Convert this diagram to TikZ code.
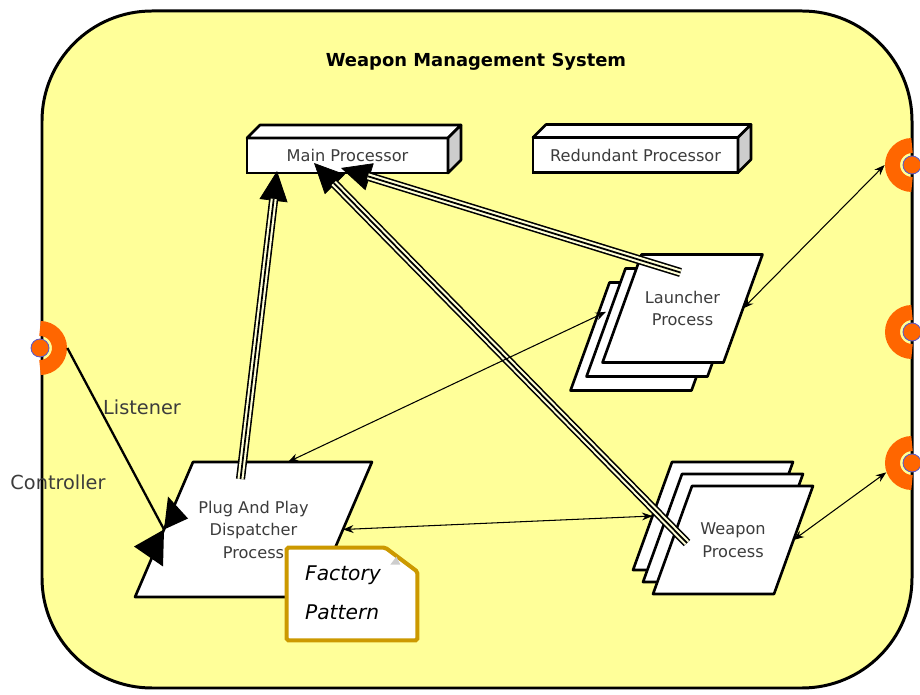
\documentclass[tikz,border=0pt]{standalone}
\usepackage{fontspec}
\setmainfont{DejaVu Sans}
\usepackage{tikz}
\usetikzlibrary{arrows,arrows.meta,backgrounds}

\definecolor{wmsyellow}{RGB}{255,255,153}
\definecolor{portorange}{RGB}{255,102,0}
\definecolor{portblue}{RGB}{90,90,200}
\definecolor{notegold}{RGB}{204,153,0}
\definecolor{sidegray}{RGB}{205,205,205}
\definecolor{labelgray}{RGB}{60,60,60}
\definecolor{railcream}{RGB}{255,255,215}

\newcommand{\nodefont}{\fontsize{9.2}{12.8}\selectfont}

\begin{document}
\begin{tikzpicture}[x=0.02cm, y=-0.02cm, inner sep=0pt]
    \tikzstyle{wmsframe}=[draw=black, line width=1.7pt, fill=wmsyellow, rounded corners=2.2cm]
    \tikzstyle{proc}=[rectangle, draw=black, line width=1.5pt, fill=white, outer sep=0pt, text=labelgray, font=\nodefont, minimum height=0.7cm]
    \tikzstyle{face}=[draw=black, line width=1.5pt, line join=round]
    \tikzstyle{card}=[rectangle, outer sep=0pt, text=labelgray, font=\nodefont, align=center, minimum width=2.42cm, minimum height=2.16cm]
    \tikzstyle{cardedge}=[draw=black, line width=1.5pt, fill=white, line join=round]
    \tikzstyle{portnode}=[circle, minimum size=1.08cm]
    \tikzstyle{ring}=[draw=portorange, line width=0.3cm]
    \tikzstyle{portdot}=[fill=portorange, draw=portblue, line width=0.5pt]
    \tikzstyle{notebrd}=[draw=notegold, line width=2.3pt, fill=white, rounded corners=1pt]
    \tikzstyle{rail}=[draw=black, line width=5.2pt, -{Triangle[length=17pt,width=16pt,line width=0.4pt]}, postaction={draw=railcream, line width=3.4pt, -, shorten >=16pt}, postaction={draw=black, line width=1pt, -, shorten >=16pt}]
    \tikzstyle{link}=[<->, >={Stealth[length=6pt,width=4.5pt]}, draw=black, line width=0.6pt]
    \tikzstyle{lbl}=[text=labelgray, font=\fontsize{11}{13}\selectfont]

    \useasboundingbox (0,0) rectangle (920,695);
    \begin{pgfonlayer}{background}
        \draw[wmsframe] (42,11) rectangle (912,688);
    \end{pgfonlayer}
    \node[font=\fontsize{10.2}{12}\selectfont\bfseries] (title) at (476,62) {Weapon Management System};

    % ports on the system border
    \node[portnode] (lp)  at (40,348) {};
    \node[portnode] (rp1) at (912,165) {};
    \node[portnode] (rp2) at (912,332) {};
    \node[portnode] (rp3) at (912,463) {};
    \foreach \p/\a in {lp/-90, rp1/90, rp2/90, rp3/90} {
        \draw[ring] (\p.center) ++(\a:0.39cm) arc (\a:\a+180:0.39cm);
        \filldraw[portdot] (\p.center) circle (0.18cm);
    }

    % processors
    \node[proc, minimum width=4.02cm] (mainp) at (347.5,155.5) {Main Processor};
    \node[proc, minimum width=4.1cm] (redp) at (635.5,155) {Redundant Processor};
    \foreach \b in {mainp, redp} {
        \filldraw[face, fill=white] (\b.north west) -- ++(13,-13) -- ([shift={(13,-13)}]\b.north east) -- (\b.north east) -- cycle;
        \filldraw[face, fill=sidegray] (\b.north east) -- ++(13,-13) -- ([shift={(13,-13)}]\b.south east) -- (\b.south east) -- cycle;
    }

    % process stacks, slanted outlines go behind the text
    \node[card] (launch3) at (650.5,336.5) {};
    \node[card] (launch2) at (666.5,322.5) {};
    \node[card] (launch) at (682.5,308.5) {Launcher\\Process};
    \node[card] (weap3) at (713,516) {};
    \node[card] (weap2) at (723,528) {};
    \node[card] (weap) at (733,540) {Weapon\\Process};
    \node[card, minimum width=3.58cm, minimum height=2.7cm] (plug) at (253.5,529.5) {Plug And Play\\Dispatcher\\Process};
    \begin{pgfonlayer}{background}
        \foreach \c/\s in {launch3/39, launch2/39, launch/39, weap3/39, weap2/39, weap/39, plug/58} {
            \filldraw[cardedge] ([xshift=\s*0.01cm]\c.north west) -- ([xshift=\s*0.01cm]\c.north east)
                -- ([xshift=-\s*0.01cm]\c.south east) -- ([xshift=-\s*0.01cm]\c.south west) -- cycle;
        }
    \end{pgfonlayer}

    % note
    \node[minimum width=2.6cm, minimum height=1.84cm] (fnote) at (352,594) {};
    \filldraw[notebrd] (fnote.south west) -- (fnote.north west) -- ([xshift=-0.64cm]fnote.north east) -- ([yshift=-0.48cm]fnote.north east) -- (fnote.south east) -- cycle;
    \fill[sidegray] ([shift={(-27,17)}]fnote.north east) -- ([shift={(-21,9)}]fnote.north east) -- ([shift={(-17,17)}]fnote.north east) -- cycle;
    \node[font=\fontsize{11.5}{22}\selectfont\itshape, align=left] (ftext) at (343,593) {Factory\\Pattern};

    % deployment onto the main processor
    \draw[rail] ([shift={(-13,17)}]plug.north) -- ([shift={(30,-2)}]mainp.south west);
    \draw[rail] ([shift={(-46,3)}]weap.center) -- ([shift={(67,-10)}]mainp.south west);
    \draw[rail] ([shift={(-2,18)}]launch.north) -- ([shift={(94,-5)}]mainp.south west);

    \draw[link] (launch.east) -- (rp1.west);
    \draw[link] (weap.east) -- (rp3.200);
    \draw[link] (launch2.170) -- (plug.63);
    \draw[link] (plug.east) -- (weap3.west);

    % controller socket
    \draw[black, line width=1.3pt] (lp.east) -- (plug.west);
    \fill (plug.west) -- +(4,-33) -- +(24,-11) -- cycle;
    \fill (plug.west) -- +(-30,17) -- +(-1,37) -- cycle;

    \node[lbl] (listen) at (142,407) {Listener};
    \node[lbl] (control) at (58,482) {Controller};
\end{tikzpicture}
\end{document}
